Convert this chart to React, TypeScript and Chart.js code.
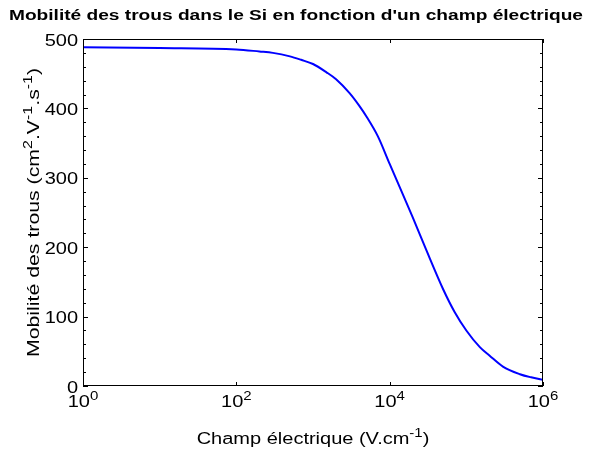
import React, { useEffect, useRef } from "react";
import { Chart, registerables } from "chart.js";

Chart.register(...registerables);

// Electric field (V/cm) and hole mobility (cm^2/(V.s))
const fieldValues = [1, 10, 100, 200, 300, 500, 700, 1000, 1500, 2000, 3000, 4000, 5000, 7000, 10000, 15000, 20000, 30000, 50000, 70000, 100000, 150000, 200000, 300000, 500000, 700000, 1000000];
const mobilityValues = [488, 487, 485, 482, 480, 475, 470, 464, 452, 442, 422, 404, 388, 360, 320, 275, 243, 196, 139, 107, 80, 56, 44, 28, 17, 12.5, 9];

const yTickValues = [0, 100, 200, 300, 400, 500];
const yMinorStep = 20;
const xTickValues = [1, 100, 10000, 1000000];
const xTickExponents = ["0", "2", "4", "6"];

const titleText = "Mobilité des trous dans le Si en fonction d'un champ électrique";
const xLabelParts = [{ t: "Champ électrique (V.cm" }, { t: "-1", sup: true }, { t: ")" }];
const yLabelParts = [
  { t: "Mobilité des trous (cm" }, { t: "2", sup: true }, { t: ".V" }, { t: "-1", sup: true },
  { t: ".s" }, { t: "-1", sup: true }, { t: ")" },
];

const FONT = '"Liberation Sans", Arial, sans-serif';
const SX = 1.25; // horizontal glyph stretch of the reference text

type Part = { t: string; sup?: boolean };

function richWidth(ctx: CanvasRenderingContext2D, parts: Part[], size: number, sx: number) {
  let w = 0;
  for (const p of parts) {
    ctx.font = `${p.sup ? Math.round(size * 0.72) : size}px ${FONT}`;
    w += ctx.measureText(p.t).width;
  }
  return w * sx;
}

function drawRich(ctx: CanvasRenderingContext2D, parts: Part[], x0: number, baseline: number, size: number, sx: number) {
  ctx.save();
  ctx.translate(x0, baseline);
  ctx.scale(sx, 1);
  let x = 0;
  ctx.textAlign = "left";
  ctx.textBaseline = "alphabetic";
  for (const p of parts) {
    ctx.font = `${p.sup ? Math.round(size * 0.72) : size}px ${FONT}`;
    ctx.fillText(p.t, x, p.sup ? -size * 0.42 : 0);
    x += ctx.measureText(p.t).width;
  }
  ctx.restore();
}

const decorPlugin = {
  id: "decor",
  afterDraw(chart: any) {
    const { ctx, chartArea: a, scales } = chart;
    const xs = scales.x;
    const ys = scales.y;
    ctx.save();
    ctx.strokeStyle = "#000";
    ctx.fillStyle = "#000";
    ctx.lineWidth = 1;
    ctx.strokeRect(Math.round(a.left) + 0.5, Math.round(a.top) + 0.5, Math.round(a.right - a.left) - 1, Math.round(a.bottom - a.top) - 1);

    ctx.beginPath();
    for (let v = 0; v <= 500; v += yMinorStep) {
      const py = Math.round(ys.getPixelForValue(v)) + 0.5;
      const major = v % 100 === 0;
      const len = major ? 5 : 3;
      ctx.moveTo(a.left, py);
      ctx.lineTo(a.left + len, py);
      ctx.moveTo(a.right, py);
      ctx.lineTo(a.right - len, py);
    }
    for (const v of xTickValues) {
      const px = Math.round(xs.getPixelForValue(v)) + 0.5;
      ctx.moveTo(px, a.bottom);
      ctx.lineTo(px, a.bottom - 4);
      ctx.moveTo(px, a.top);
      ctx.lineTo(px, a.top + 4);
    }
    ctx.stroke();

    for (const v of yTickValues) {
      const parts = [{ t: String(v) }];
      const w = richWidth(ctx, parts, 16, SX);
      drawRich(ctx, parts, a.left - 5 - w, ys.getPixelForValue(v) + 6.5, 16, SX);
    }

    xTickValues.forEach((v, i) => {
      const parts = [{ t: "10" }, { t: xTickExponents[i], sup: true }];
      const w = richWidth(ctx, parts, 16, SX);
      drawRich(ctx, parts, xs.getPixelForValue(v) - w / 2, a.bottom + 21, 16, SX);
    });

    const cx = (a.left + a.right) / 2;
    const xw = richWidth(ctx, xLabelParts, 16, SX);
    drawRich(ctx, xLabelParts, cx - xw / 2, 444, 16, SX);

    const cy = (a.top + a.bottom) / 2;
    ctx.save();
    ctx.translate(39, cy);
    ctx.rotate(-Math.PI / 2);
    const yw = richWidth(ctx, yLabelParts, 16, 1.33);
    drawRich(ctx, yLabelParts, -yw / 2, 0, 16, 1.33);
    ctx.restore();

    ctx.font = `bold 14px ${FONT}`;
    const tw = ctx.measureText(titleText).width;
    const tsx = 574 / tw;
    ctx.save();
    ctx.translate(296, 20);
    ctx.scale(tsx, 1);
    ctx.textAlign = "center";
    ctx.textBaseline = "alphabetic";
    ctx.fillText(titleText, 0, 0);
    ctx.restore();
    ctx.restore();
  },
};

export default function App() {
  const ref = useRef<HTMLCanvasElement>(null);
  useEffect(() => {
    document.body.style.margin = "0";
    const chart = new Chart(ref.current!, {
      type: "line",
      data: {
        datasets: [
          {
            data: fieldValues.map((f, i) => ({ x: f, y: mobilityValues[i] })),
            borderColor: "#0000ff",
            borderWidth: 2,
            pointRadius: 0,
            fill: false,
            cubicInterpolationMode: "monotone",
          },
        ],
      },
      options: {
        responsive: false,
        animation: false,
        layout: { padding: { left: 83, top: 39, right: 51, bottom: 66 } },
        plugins: { legend: { display: false }, tooltip: { enabled: false }, title: { display: false } },
        scales: {
          x: { type: "logarithmic", min: 1, max: 1000000, display: false },
          y: { type: "linear", min: 0, max: 500, display: false },
        },
      },
      plugins: [decorPlugin],
    });
    return () => chart.destroy();
  }, []);
  return (
    <div style={{ width: 594, height: 452, background: "#fff" }}>
      <canvas ref={ref} width={594} height={452} style={{ display: "block" }} />
    </div>
  );
}
